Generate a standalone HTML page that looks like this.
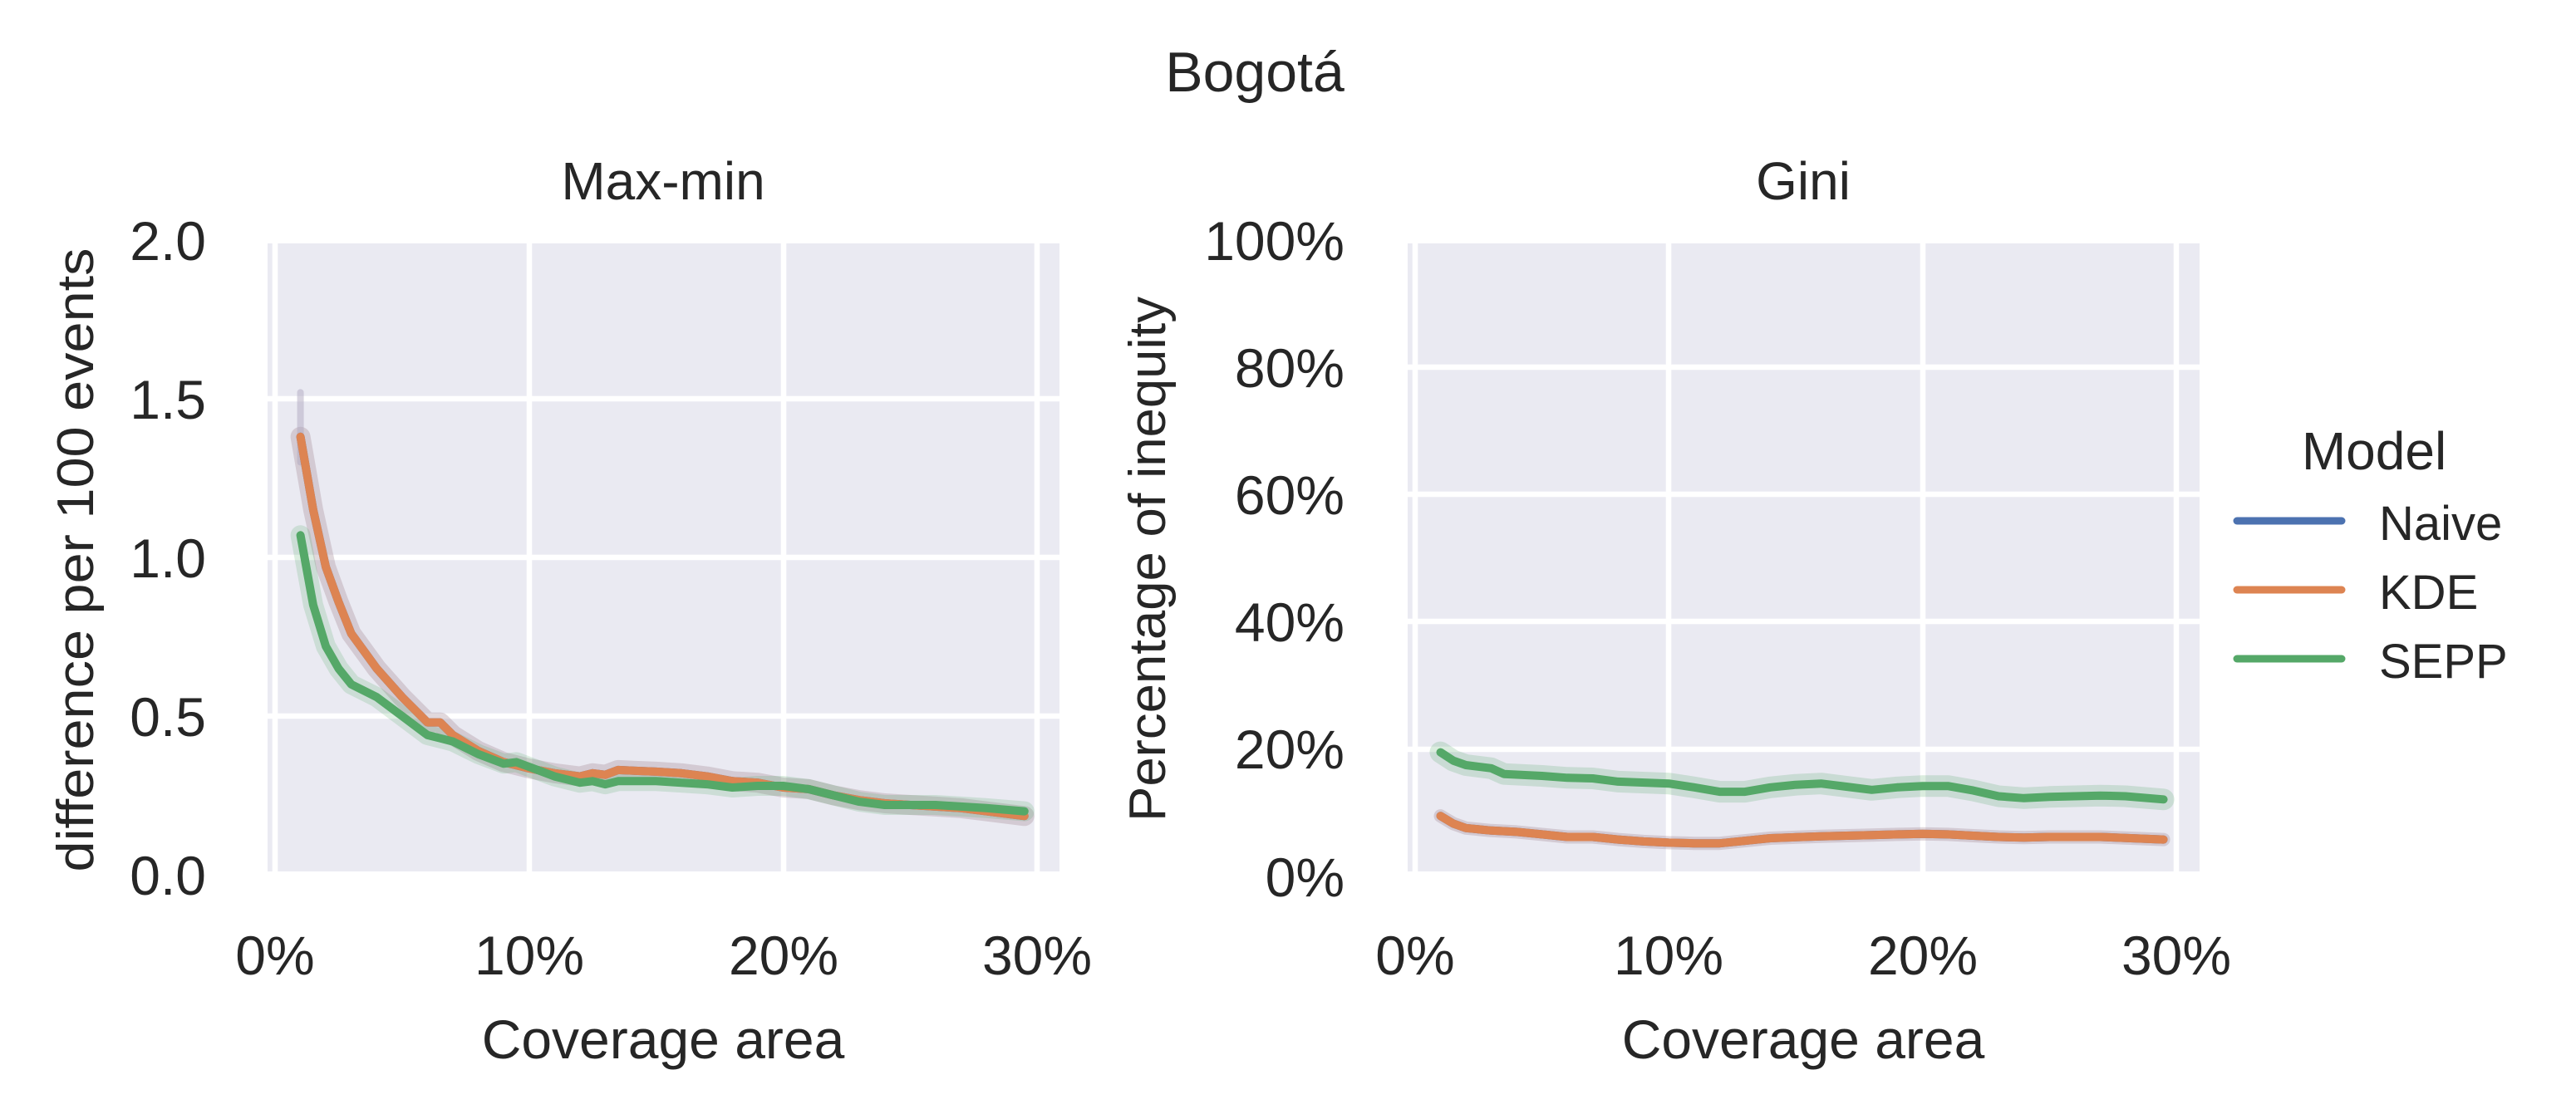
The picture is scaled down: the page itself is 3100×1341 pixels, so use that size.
<!DOCTYPE html>
<html><head><meta charset="utf-8"><style>
html,body{margin:0;padding:0;background:#fff}
svg{display:block}
text{font-family:"Liberation Sans",sans-serif;fill:#262626}
</style></head><body>
<svg id="s" width="3100" height="1341" viewBox="0 0 3100 1341" xmlns="http://www.w3.org/2000/svg">
<rect width="3100" height="1341" fill="#fff"/>
<!-- axes backgrounds -->
<rect x="322" y="293" width="953" height="756" fill="#eaeaf2"/>
<rect x="1694" y="293" width="953" height="756" fill="#eaeaf2"/>
<g id="grid" stroke="#fff" stroke-width="6.5"></g>
<g id="series" fill="none" stroke-linecap="round" stroke-linejoin="round"></g>
<!-- titles -->
<text x="1510" y="110" font-size="68" text-anchor="middle">Bogotá</text>
<text x="798" y="240" font-size="64" text-anchor="middle">Max-min</text>
<text x="2170" y="240" font-size="64" text-anchor="middle">Gini</text>
<!-- left y ticks -->
<g font-size="66" text-anchor="end">
<text x="248" y="313">2.0</text>
<text x="248" y="504">1.5</text>
<text x="248" y="695">1.0</text>
<text x="248" y="886">0.5</text>
<text x="248" y="1077">0.0</text>
<text x="1618" y="313">100%</text>
<text x="1618" y="466">80%</text>
<text x="1618" y="619">60%</text>
<text x="1618" y="772">40%</text>
<text x="1618" y="925">20%</text>
<text x="1618" y="1079">0%</text>
</g>
<g font-size="66" text-anchor="middle">
<text x="331" y="1173">0%</text>
<text x="637" y="1173">10%</text>
<text x="943" y="1173">20%</text>
<text x="1248" y="1173">30%</text>
<text x="1703" y="1173">0%</text>
<text x="2008" y="1173">10%</text>
<text x="2314" y="1173">20%</text>
<text x="2619" y="1173">30%</text>
<text x="798" y="1274">Coverage area</text>
<text x="2170" y="1274">Coverage area</text>
</g>
<text transform="translate(112,674) rotate(-90)" font-size="62" text-anchor="middle" textLength="751" lengthAdjust="spacingAndGlyphs">difference per 100 events</text>
<text transform="translate(1402,673) rotate(-90)" font-size="62" text-anchor="middle" textLength="632" lengthAdjust="spacingAndGlyphs">Percentage of inequity</text>
<!-- legend -->
<text x="2857" y="565" font-size="64" text-anchor="middle">Model</text>
<g stroke-width="9" stroke-linecap="round">
<line x1="2692" y1="627" x2="2818" y2="627" stroke="#4c72b0"/>
<line x1="2692" y1="710" x2="2818" y2="710" stroke="#dd8452"/>
<line x1="2692" y1="793" x2="2818" y2="793" stroke="#55a868"/>
</g>
<g font-size="58">
<text x="2863" y="650">Naive</text>
<text x="2863" y="733">KDE</text>
<text x="2863" y="816">SEPP</text>
</g>
</svg>
<script>
(function(){
var NS="http://www.w3.org/2000/svg";
var grid=document.getElementById('grid'), ser=document.getElementById('series');
function el(p,t,a){var e=document.createElementNS(NS,t);for(var k in a)e.setAttribute(k,a[k]);p.appendChild(e);return e;}
// grid lines
[331,637,943,1248].forEach(function(x){el(grid,'line',{x1:x,y1:293,x2:x,y2:1049});});
[289,480,671,862].forEach(function(y){if(y>293)el(grid,'line',{x1:322,y1:y,x2:1275,y2:y});});
[1703,2008,2314,2619].forEach(function(x){el(grid,'line',{x1:x,y1:293,x2:x,y2:1049});});
[442,595,748,902].forEach(function(y){el(grid,'line',{x1:1694,y1:y,x2:2647,y2:y});});
function LX(p){return 331+p*30.57;} function LY(v){return 1053-382*v;}
function RX(p){return 1703+p*30.53;} function RY(v){return 1055-7.66*v;}
function path(d,fx,fy){return d.map(function(q,i){return (i?'L':'M')+fx(q[0]).toFixed(1)+' '+fy(q[1]).toFixed(1);}).join(' ');}
var Lo=[[1,1.38],[1.5,1.15],[2,0.97],[2.5,0.86],[3,0.76],[4,0.65],[5,0.56],[6,0.48],[6.5,0.48],[7,0.44],[8,0.39],[9,0.355],[10,0.335],[11,0.32],[12,0.31],[12.5,0.32],[13,0.315],[13.5,0.33],[15,0.325],[16,0.32],[17,0.31],[18,0.295],[19,0.29],[20,0.275],[21,0.27],[22,0.25],[23,0.235],[24,0.225],[25,0.22],[26,0.215],[27,0.21],[28,0.2],[29.5,0.185]];
var Lg=[[1,1.07],[1.5,0.85],[2,0.72],[2.5,0.65],[3,0.6],[4,0.56],[5,0.5],[6,0.44],[6.5,0.43],[7,0.42],[8,0.38],[9,0.35],[9.5,0.355],[10,0.34],[11,0.31],[12,0.29],[12.5,0.295],[13,0.285],[13.5,0.295],[15,0.295],[16,0.29],[17,0.285],[18,0.275],[19,0.28],[20,0.28],[21,0.27],[22,0.25],[23,0.23],[24,0.22],[25,0.22],[26,0.22],[27,0.215],[28,0.21],[29.5,0.2]];
var Rg=[[1,19.5],[1.5,18.2],[2,17.5],[3,17],[3.5,16.1],[5,15.8],[6,15.5],[7,15.4],[8,14.9],[10,14.6],[11,14],[12,13.3],[13,13.3],[14,14],[15,14.4],[16,14.6],[17,14.1],[18,13.6],[19,14],[20,14.2],[21,14.2],[22,13.5],[23,12.6],[24,12.3],[25,12.5],[26,12.6],[27,12.7],[28,12.6],[29.5,12.1]];
var Ro=[[1,9.5],[1.5,8.3],[2,7.6],[3,7.2],[4,7],[5,6.6],[6,6.2],[7,6.2],[8,5.8],[9,5.5],[10,5.3],[11,5.2],[12,5.2],[13,5.6],[14,6],[16,6.3],[18,6.5],[19,6.6],[20,6.7],[21,6.6],[22,6.4],[23,6.2],[24,6.1],[25,6.2],[27,6.2],[29.5,5.8]];
// bands
el(ser,'path',{d:path(Lo,LX,LY),stroke:'#a88f9a','stroke-width':24,opacity:0.35});
el(ser,'path',{d:'M'+LX(1)+' '+LY(1.52)+' L'+LX(1)+' '+LY(1.3),stroke:'#b0a8c0','stroke-width':8,opacity:0.5});
el(ser,'path',{d:path(Lg,LX,LY),stroke:'#55a868','stroke-width':24,opacity:0.2});
el(ser,'path',{d:path(Rg,RX,RY),stroke:'#55a868','stroke-width':26,opacity:0.22});
el(ser,'path',{d:path(Ro,RX,RY),stroke:'#a88f9a','stroke-width':16,opacity:0.35});
// lines
el(ser,'path',{d:path(Lo,LX,LY),stroke:'#4c72b0','stroke-width':10});
el(ser,'path',{d:path(Lo,LX,LY),stroke:'#dd8452','stroke-width':10});
el(ser,'path',{d:path(Lg,LX,LY),stroke:'#55a868','stroke-width':10});
el(ser,'path',{d:path(Ro,RX,RY),stroke:'#4c72b0','stroke-width':10});
el(ser,'path',{d:path(Ro,RX,RY),stroke:'#dd8452','stroke-width':10});
el(ser,'path',{d:path(Rg,RX,RY),stroke:'#55a868','stroke-width':10});
})();
</script>
</body></html>
